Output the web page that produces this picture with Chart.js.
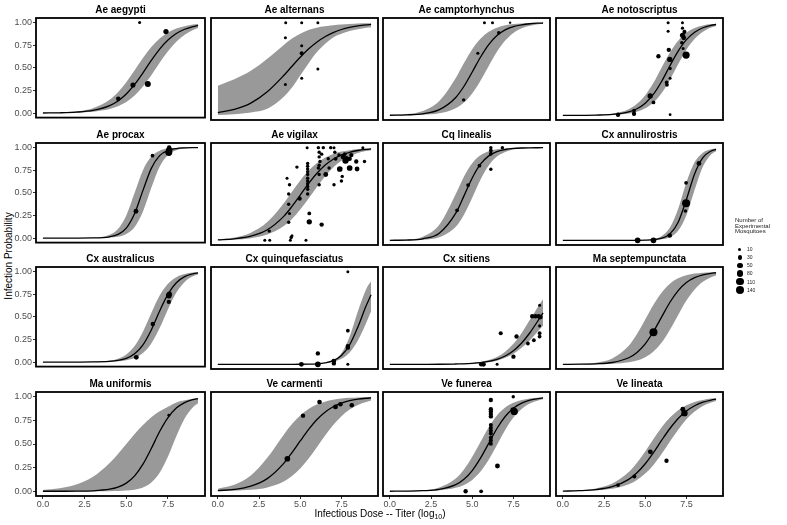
<!DOCTYPE html>
<html>
<head>
<meta charset="utf-8">
<script src="https://cdn.jsdelivr.net/npm/chart.js@4.4.1/dist/chart.umd.min.js"></script>
<style>
  body { margin: 0; background: #fff; width: 787px; height: 525px; position: relative; overflow: hidden;
         font-family: "Liberation Sans", Arial, Helvetica, sans-serif; color: #000; }
  .panel { position: absolute; }
  .panel canvas { display: block; }
  .txt { will-change: transform; }
  #ytitle { position: absolute; left: 8px; top: 256px; font-size: 10px; white-space: nowrap; color: #000;
            transform: translate(-50%, -50%) rotate(-90deg); }
  #xtitle { position: absolute; left: 380px; top: 514px; font-size: 10px; white-space: nowrap; color: #000;
            transform: translate(-50%, -50%); }
  #xtitle sub { font-size: 7px; vertical-align: -2px; }
  #legtitle { position: absolute; left: 735px; top: 218px; font-size: 6px; line-height: 5.7px; color: #222; }
  .dot { position: absolute; background: #000; border-radius: 50%; }
  .leglab { position: absolute; left: 746.5px; font-size: 5px; line-height: 6px; color: #222; }
</style>
</head>
<body>
<div id="ytitle">Infection Probability</div>
<div id="xtitle" class="txt">Infectious Dose -- Titer (log<sub>10</sub>)</div>
<div id="legtitle" class="txt">Number of<br>Experimental<br>Mosquitoes</div>
<script>
const doseGrid = [0, 1, 2, 3, 4, 4.5, 5, 5.5, 6, 6.5, 7, 7.5, 8, 8.5, 9, 9.3];
const xTicks = [0, 2.5, 5, 7.5];
const yTicks = [0, 0.25, 0.5, 0.75, 1];
const legendSizes = [10, 30, 50, 80, 110, 140];

// points: [dose, probability, mosquitoes]
const aeAegyptiPts = [[5.8,1,10],[7.38,0.9,50],[5.4,0.31,45],[6.29,0.32,70],[4.52,0.157,35]];
const aeAegyptiFit = [.001,.003,.010,.029,.082,.134,.211,.317,.445,.582,.707,.807,.879,.926,.956,.968];
const aeAegyptiHi  = [.002,.006,.019,.054,.147,.230,.341,.473,.608,.729,.823,.890,.933,.960,.977,.983];
const aeAegyptiLo  = [.001,.002,.005,.015,.044,.074,.121,.193,.293,.418,.555,.683,.789,.866,.918,.940];

const aeAlternansPts = [[4.12,1,10],[5.09,1,10],[6.07,1,10],[4.1,0.836,10],[5.09,0.75,10],[5.09,0.67,25],[6.07,0.5,10],[5.09,0.4,10],[4.1,0.334,10]];
const aeAlternansFit = [.030,.064,.132,.254,.430,.530,.627,.715,.789,.848,.893,.926,.949,.965,.976,.981];
const aeAlternansHi  = [.32,.39,.48,.61,.76,.83,.88,.92,.945,.96,.972,.98,.986,.99,.993,.994];
const aeAlternansLo  = [.005,.012,.03,.07,.2,.3,.43,.56,.68,.77,.84,.88,.91,.93,.945,.95];

const aeCamptoPts = [[5.74,1,10],[6.23,1,10],[7.3,1,4],[6.61,0.89,15],[5.34,0.67,12],[4.48,0.167,15]];
const aeCamptoFit = [.001,.005,.017,.061,.193,.314,.468,.627,.763,.861,.922,.958,.977,.988,.994,.996];
const aeCamptoHi  = [.004,.014,.048,.156,.404,.565,.713,.826,.901,.946,.971,.985,.992,.996,.998,.998];
const aeCamptoLo  = [.0005,.002,.006,.023,.078,.139,.237,.373,.532,.686,.807,.889,.939,.967,.983,.988];

const aeNotoPts = [[6.39,1,10],[7.26,1,10],[6.39,0.906,10],[7.26,0.94,12],[7.38,0.9,25],[7.26,0.864,45],[7.34,0.836,35],
  [7.22,0.784,15],[7.3,0.72,10],[7.48,0.65,110],[6.43,0.707,30],[5.8,0.638,30],[6.49,0.603,50],[6.51,0.505,15],
  [6.51,0.4,10],[6.3,0.355,20],[6.32,0.33,20],[5.3,0.209,50],[5.5,0.139,20],[4.32,0.052,20],[4.32,0.017,30],
  [3.35,0.007,30],[6.51,0.007,8]];
const aeNotoFit = [.0002,.0007,.003,.010,.038,.071,.131,.228,.368,.535,.692,.816,.897,.945,.971,.980];
const aeNotoHi  = [.0003,.001,.005,.018,.067,.124,.218,.352,.517,.677,.805,.890,.941,.969,.984,.989];
const aeNotoLo  = [.0001,.0004,.001,.005,.021,.040,.076,.139,.241,.385,.550,.707,.825,.903,.948,.965];

const aeProcaxPts = [[7.57,1,30],[7.57,0.97,80],[7.55,0.945,100],[6.57,0.91,20],[5.58,0.296,40]];
const aeProcaxFit = [0,0,.0002,.0015,.014,.040,.110,.271,.527,.770,.910,.968,.989,.996,.999,.999];
const aeProcaxHi  = [0,0,.0005,.004,.036,.100,.250,.500,.750,.900,.964,.988,.996,.999,1,1];
const aeProcaxLo  = [0,0,.0001,.0006,.005,.015,.044,.121,.293,.555,.789,.918,.971,.990,.997,.998];

const aeVigilaxPts = [[2.85,0,10],[3.15,0,10],[3.12,0.1,15],[4.4,0,10],[4.45,0.03,15],[4.5,0.05,10],[5.35,0,10],
  [4.3,0.195,15],[4.35,0.29,10],[4.3,0.39,15],[4.3,0.5,15],[4.35,0.6,15],[4.2,0.67,10],[4.8,0.79,15],[4.97,0.45,25],
  [5.45,0.83,15],[5.45,0.8,15],[5.45,0.77,15],[5.45,0.74,15],[5.45,0.71,15],[5.45,0.67,15],[5.45,0.64,15],
  [5.45,0.61,15],[5.45,0.58,15],[5.45,0.55,15],[5.45,0.5,15],[5.42,1,10],[5.55,0.29,20],[5.55,0.2,50],[6.3,0.17,30],
  [6.1,1,15],[6.4,1,15],[6.85,1,15],[7.05,1,10],[8.8,1,10],[6.15,0.95,15],[6.3,0.93,15],[6.15,0.9,15],[6.2,0.85,15],
  [6.15,0.81,15],[6.1,0.78,15],[6.15,0.71,15],[6.15,0.6,15],[6.55,0.71,40],[6.7,0.88,15],[6.75,0.78,15],
  [7.05,0.6,15],[7.1,0.95,15],[7.15,0.88,20],[7.35,0.92,15],[7.4,0.77,60],[7.5,0.64,15],[7.55,0.69,15],
  [7.6,0.9,40],[7.75,0.86,80],[7.8,0.88,60],[7.7,0.93,20],[8,0.78,60],[8,0.88,30],[8.1,0.92,30],[8.45,0.77,40],
  [8.4,0.85,30],[8.9,0.85,15]];
const aeVigilaxFit = [.006,.017,.045,.114,.259,.366,.488,.611,.721,.810,.875,.921,.950,.969,.981,.986];
const aeVigilaxHi  = [.012,.032,.083,.198,.401,.525,.646,.750,.832,.891,.931,.957,.973,.984,.990,.993];
const aeVigilaxLo  = [.003,.009,.024,.063,.154,.231,.332,.450,.574,.690,.786,.858,.909,.943,.964,.973];

const cqLinealisPts = [[6.13,1,15],[6.83,1,15],[6.13,0.97,20],[6.13,0.934,20],[6.13,0.767,15],[5.44,0.805,20],[4.75,0.596,20],[4.08,0.324,20]];
const cqLinealisFit = [.0007,.003,.017,.077,.293,.480,.673,.821,.911,.958,.980,.991,.996,.998,.999,.9995];
const cqLinealisHi  = [.002,.008,.039,.168,.5,.69,.832,.917,.961,.982,.992,.996,.998,.999,.9997,.9998];
const cqLinealisLo  = [.0003,.001,.007,.034,.147,.277,.460,.655,.808,.904,.954,.979,.990,.996,.998,.9987];

const cxAnnuliPts = [[4.54,0,60],[5.5,0,60],[6.49,0.052,35],[7.48,0.62,20],[7.48,0.4,140],[7.44,0.317,15],[8.26,0.83,40]];
const cxAnnuliFit = [0,0,0,0,.0002,.0007,.002,.007,.023,.070,.196,.441,.719,.893,.964,.982];
const cxAnnuliHi  = [0,0,0,.0001,.0004,.0015,.005,.015,.047,.138,.341,.627,.844,.946,.983,.991];
const cxAnnuliLo  = [0,0,0,0,.0001,.0003,.001,.003,.011,.034,.103,.271,.547,.796,.927,.962];

const cxAustralPts = [[5.6,0.052,40],[6.59,0.42,30],[7.55,0.734,60],[7.58,0.75,50],[7.55,0.665,30]];
const cxAustralFit = [0,0,.0003,.0014,.008,.018,.041,.091,.190,.354,.564,.750,.876,.943,.975,.985];
const cxAustralHi  = [0,.0001,.0006,.003,.017,.038,.085,.178,.336,.542,.735,.866,.938,.973,.988,.993];
const cxAustralLo  = [0,0,.0001,.0007,.004,.008,.020,.045,.099,.204,.375,.584,.767,.885,.947,.968];

const cxQuinquePts = [[7.89,1,10],[7.89,0.363,20],[7.89,0.197,30],[7.89,0.18,30],[7.89,0,10],[6.07,0.118,30],
  [5.07,0,40],[6.07,0,60],[7.04,0.035,40],[7.04,0.01,30]];
const cxQuinqueFit = [0,0,0,0,.0002,.0004,.001,.003,.006,.016,.040,.095,.211,.404,.632,.750];
const cxQuinqueHi  = [0,0,0,0,0,.0001,.0004,.0014,.004,.013,.041,.119,.300,.574,.810,.895];
const cxQuinqueLo  = [0,0,0,0,0,0,.001,.002,.005,.012,.027,.060,.129,.257,.445,.572];

const cxSitiensPts = [[9.09,0.637,10],[8.64,0.519,30],[8.84,0.519,30],[9.03,0.519,30],[9.13,0.51,40],[9.09,0.415,10],
  [9.09,0.336,20],[9.09,0.3,20],[8.74,0.26,20],[8.38,0.225,20],[7.69,0.3,30],[6.73,0.336,25],[7.5,0.083,30],
  [6.51,0,10],[5.68,0,40],[5.54,0,30]];
const cxSitiensFit = [0,.0001,.0004,.001,.004,.006,.011,.019,.032,.054,.090,.147,.230,.341,.473,.555];
const cxSitiensHi  = [0,.0001,.0004,.0014,.005,.008,.015,.026,.046,.080,.136,.221,.338,.480,.625,.703];
const cxSitiensLo  = [0,.0001,.0003,.0007,.003,.004,.007,.013,.022,.04,.07,.115,.18,.26,.36,.42];

const maSeptemPts = [[5.5,0.346,140]];
const maSeptemFit = [.0004,.0015,.006,.020,.071,.129,.221,.354,.512,.670,.796,.883,.935,.965,.982,.988];
const maSeptemHi  = [.0013,.005,.018,.064,.201,.327,.483,.643,.776,.870,.928,.961,.979,.989,.994,.996];
const maSeptemLo  = [.0001,.0004,.0016,.006,.022,.041,.077,.138,.235,.373,.532,.688,.808,.891,.940,.958];

const maUniformisPts = [[7.55,0.805,8]];
const maUniformisFit = [0,.0003,.0012,.005,.022,.044,.086,.163,.287,.453,.632,.779,.880,.938,.969,.980];
const maUniformisHi  = [.014,.032,.072,.154,.300,.395,.5,.605,.700,.782,.846,.894,.94,.962,.978,.986];
const maUniformisLo  = [0,0,0,.0002,.0013,.003,.007,.017,.040,.092,.195,.368,.582,.770,.889,.931];

const veCarmentiPts = [[4.22,0.344,60],[5.17,0.8,30],[6.17,0.944,35],[7.14,0.892,40],[7.44,0.92,35],[8.13,0.91,35]];
const veCarmentiFit = [.0076,.020,.054,.134,.295,.409,.532,.652,.756,.836,.894,.933,.958,.974,.984,.988];
const veCarmentiHi  = [.027,.069,.168,.354,.599,.711,.802,.870,.917,.948,.968,.980,.988,.993,.9955,.997];
const veCarmentiLo  = [.002,.006,.016,.041,.104,.161,.241,.343,.463,.587,.701,.794,.864,.913,.945,.959];

const veFunereaPts = [[7.49,1,15],[6.13,0.965,30],[6.13,0.868,30],[6.13,0.844,30],[6.13,0.816,30],[6.13,0.792,30],
  [6.13,0.7,25],[6.13,0.67,25],[6.13,0.64,25],[6.13,0.61,25],[6.13,0.566,25],[6.13,0.538,25],[6.13,0.503,25],
  [7.49,0.858,60],[7.55,0.844,110],[6.53,0.267,40],[4.6,0,30],[5.54,0,20]];
const veFunereaFit = [.0004,.0015,.006,.020,.071,.128,.219,.350,.507,.664,.791,.879,.933,.964,.981,.987];
const veFunereaHi  = [.0009,.003,.011,.041,.135,.230,.364,.522,.677,.801,.885,.936,.966,.982,.990,.993];
const veFunereaLo  = [.0002,.0008,.003,.010,.036,.067,.120,.208,.334,.490,.648,.779,.871,.928,.961,.973];

const veLineataPts = [[3.35,0.066,20],[4.34,0.156,25],[5.31,0.417,40],[6.29,0.323,30],[7.28,0.868,40],[7.38,0.826,80]];
const veLineataFit = [.002,.006,.017,.048,.126,.195,.291,.409,.540,.664,.770,.849,.905,.942,.965,.974];
const veLineataHi  = [.004,.011,.030,.082,.203,.301,.421,.552,.677,.779,.857,.910,.945,.966,.980,.985];
const veLineataLo  = [.001,.003,.010,.027,.074,.119,.187,.279,.397,.527,.652,.761,.843,.901,.939,.955];

const panels = [
  ['Ae aegypti', aeAegyptiPts, aeAegyptiFit, aeAegyptiLo, aeAegyptiHi],
  ['Ae alternans', aeAlternansPts, aeAlternansFit, aeAlternansLo, aeAlternansHi],
  ['Ae camptorhynchus', aeCamptoPts, aeCamptoFit, aeCamptoLo, aeCamptoHi],
  ['Ae notoscriptus', aeNotoPts, aeNotoFit, aeNotoLo, aeNotoHi],
  ['Ae procax', aeProcaxPts, aeProcaxFit, aeProcaxLo, aeProcaxHi],
  ['Ae vigilax', aeVigilaxPts, aeVigilaxFit, aeVigilaxLo, aeVigilaxHi],
  ['Cq linealis', cqLinealisPts, cqLinealisFit, cqLinealisLo, cqLinealisHi],
  ['Cx annulirostris', cxAnnuliPts, cxAnnuliFit, cxAnnuliLo, cxAnnuliHi],
  ['Cx australicus', cxAustralPts, cxAustralFit, cxAustralLo, cxAustralHi],
  ['Cx quinquefasciatus', cxQuinquePts, cxQuinqueFit, cxQuinqueLo, cxQuinqueHi],
  ['Cx sitiens', cxSitiensPts, cxSitiensFit, cxSitiensLo, cxSitiensHi],
  ['Ma septempunctata', maSeptemPts, maSeptemFit, maSeptemLo, maSeptemHi],
  ['Ma uniformis', maUniformisPts, maUniformisFit, maUniformisLo, maUniformisHi],
  ['Ve carmenti', veCarmentiPts, veCarmentiFit, veCarmentiLo, veCarmentiHi],
  ['Ve funerea', veFunereaPts, veFunereaFit, veFunereaLo, veFunereaHi],
  ['Ve lineata', veLineataPts, veLineataFit, veLineataLo, veLineataHi]
];

const FONT = '"Liberation Sans", Arial, Helvetica, sans-serif';
const RIBBON = '#999999';
const colLeft = [36, 209, 381, 554];
const rowTop = [18, 143, 267, 392];
const PANEL_W = 171, PANEL_H = 104, STRIP_H = 18, Y_AXIS_W = 36, X_AXIS_H = 14, PAD = 2;

// point size from number of mosquitoes (area-like scale)
const radius = n => 0.59 + 0.29 * Math.sqrt(n);
const toXY = ys => ys.map((y, k) => ({ x: doseGrid[k], y }));

const panelBorder = {
  id: 'panelBorder',
  afterDraw(chart) {
    const { ctx, chartArea: a } = chart;
    ctx.save();
    ctx.strokeStyle = '#000';
    ctx.lineWidth = 1.8;
    ctx.strokeRect(a.left, a.top, a.right - a.left, a.bottom - a.top);
    ctx.restore();
  }
};

panels.forEach(([name, pts, fit, lo, hi], i) => {
  const col = i % 4, row = Math.floor(i / 4);
  const showY = col === 0, showX = row === 3;
  const padL = showY ? Y_AXIS_W : PAD;
  const padB = showX ? X_AXIS_H : PAD;

  const box = document.createElement('div');
  box.className = 'panel';
  box.style.left = (colLeft[col] - padL) + 'px';
  box.style.top = (rowTop[row] - STRIP_H) + 'px';
  const cv = document.createElement('canvas');
  cv.width = padL + PANEL_W + PAD;
  cv.height = STRIP_H + PANEL_H + padB;
  box.appendChild(cv);
  document.body.appendChild(box);

  const tickFont = { family: FONT, size: 9 };

  new Chart(cv, {
    type: 'line',
    data: {
      datasets: [
        {
          data: pts.map(([x, y, n]) => ({ x, y, n })),
          showLine: false, order: 0,
          pointRadius: c => radius(c.raw.n),
          pointBackgroundColor: '#000', pointBorderWidth: 0
        },
        {
          data: toXY(fit), order: 1, borderColor: '#000', borderWidth: 1.3,
          pointRadius: 0, cubicInterpolationMode: 'monotone', fill: false
        },
        {
          data: toXY(hi), order: 2, borderColor: 'rgba(0,0,0,0)', borderWidth: 0,
          backgroundColor: RIBBON, pointRadius: 0, cubicInterpolationMode: 'monotone', fill: '+1'
        },
        {
          data: toXY(lo), order: 3, borderColor: 'rgba(0,0,0,0)', borderWidth: 0,
          pointRadius: 0, cubicInterpolationMode: 'monotone', fill: false
        }
      ]
    },
    options: {
      responsive: false,
      animation: false,
      devicePixelRatio: 1,
      events: [],
      layout: { padding: { left: showY ? 0 : PAD, right: PAD, top: 0, bottom: showX ? 0 : PAD } },
      plugins: {
        legend: { display: false },
        tooltip: { enabled: false },
        title: {
          display: true, text: name, fullSize: false, color: '#000',
          font: { family: FONT, size: 10, weight: 'bold', lineHeight: 1.2 },
          padding: { top: 4, bottom: 2 }
        }
      },
      scales: {
        x: {
          type: 'linear', min: -0.415, max: 9.72, display: showX,
          afterBuildTicks: s => { s.ticks = xTicks.map(value => ({ value })); },
          afterFit: s => { if (showX) s.height = X_AXIS_H; },
          grid: { drawOnChartArea: false, drawTicks: true, tickLength: 3, color: '#333' },
          border: { display: false },
          ticks: { padding: 0, color: '#4d4d4d', font: tickFont, maxRotation: 0, autoSkip: false,
                   callback: v => Number(v).toFixed(1) }
        },
        y: {
          type: 'linear', min: -0.05, max: 1.05, display: showY,
          afterBuildTicks: s => { s.ticks = yTicks.map(value => ({ value })); },
          afterFit: s => { if (showY) s.width = Y_AXIS_W; },
          grid: { drawOnChartArea: false, drawTicks: true, tickLength: 3, color: '#333' },
          border: { display: false },
          ticks: { padding: 1, color: '#4d4d4d', font: tickFont, autoSkip: false,
                   callback: v => Number(v).toFixed(2) }
        }
      }
    },
    plugins: [panelBorder]
  });
});

// size legend
legendSizes.forEach((n, k) => {
  const r = radius(n);
  const cy = 249.3 + k * 8.05;
  const dot = document.createElement('div');
  dot.className = 'dot';
  Object.assign(dot.style, { left: (740 - r) + 'px', top: (cy - r) + 'px', width: 2 * r + 'px', height: 2 * r + 'px' });
  const lab = document.createElement('div');
  lab.className = 'leglab txt';
  lab.style.top = (cy - 3) + 'px';
  lab.textContent = n;
  document.body.appendChild(dot);
  document.body.appendChild(lab);
});
</script>
</body>
</html>
